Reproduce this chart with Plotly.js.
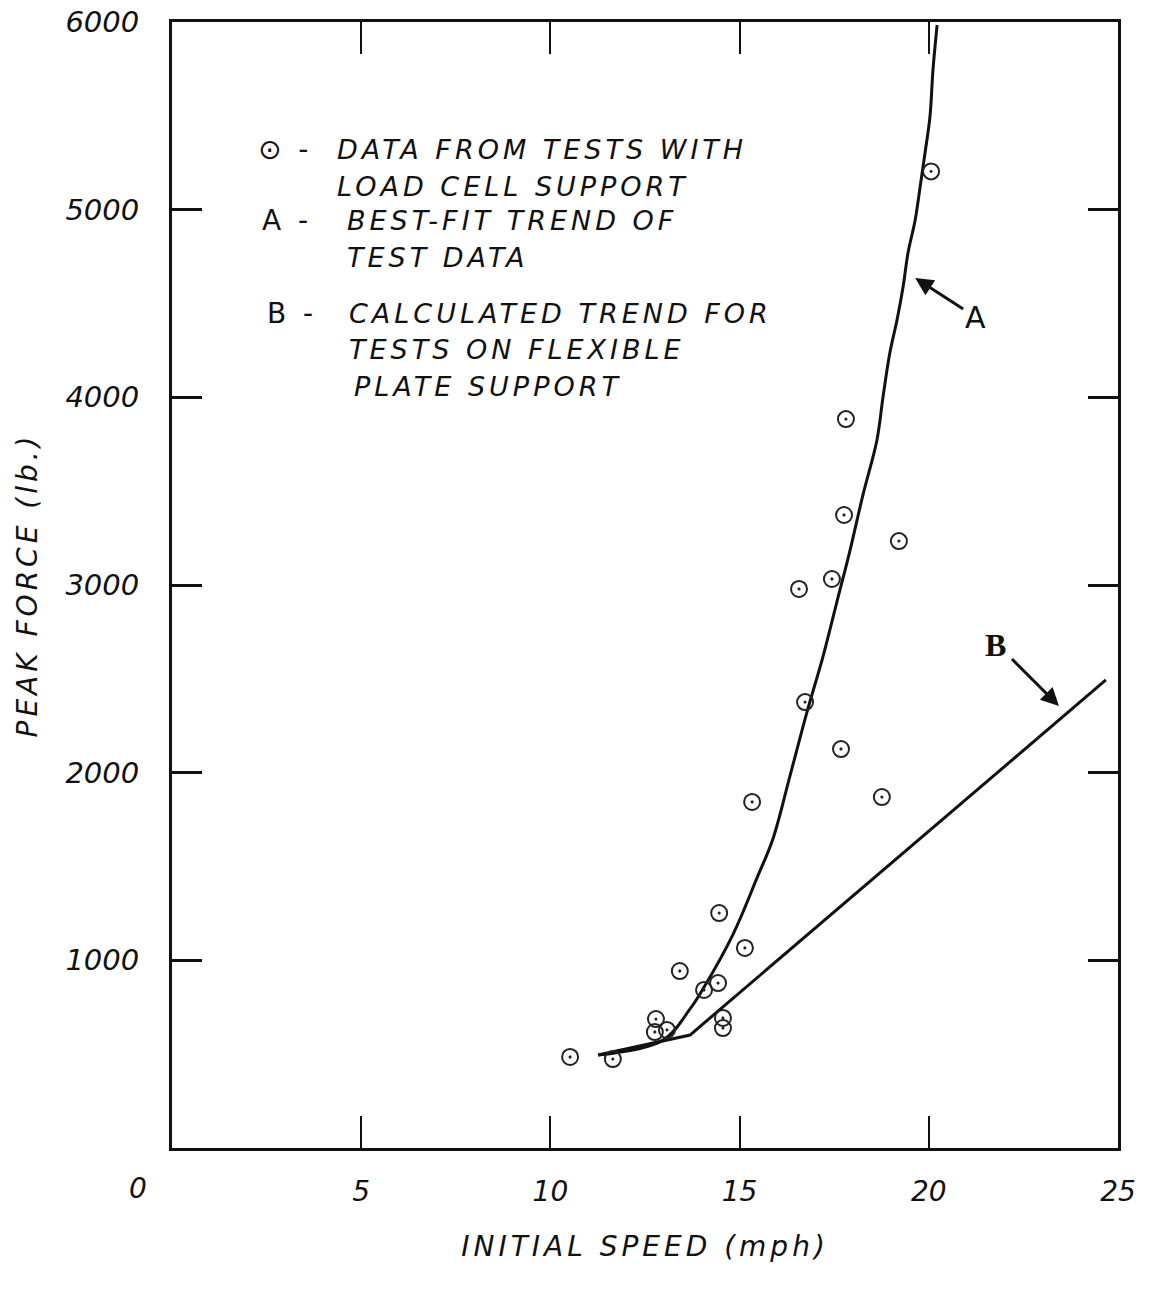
<!DOCTYPE html>
<html><head><meta charset="utf-8">
<script src="https://cdn.plot.ly/plotly-3.0.1.min.js"></script>
<style>
html,body{margin:0;padding:0;background:#fff}
#chart{width:1149px;height:1297px}
.annotation-text{letter-spacing:4px}
.xtitle,.ytitle{letter-spacing:4px}
</style></head><body><div id="chart"></div>
<script>
// Test data (load cell support)
const testSpeed = [10.52, 11.65, 12.79, 12.76, 13.08, 13.42, 14.06, 14.43, 14.46, 15.14, 14.56, 14.56,
                   15.33, 16.57, 16.73, 17.44, 17.68, 17.76, 17.81, 18.76, 19.21, 20.06];
const testForce = [485, 474, 687, 618, 629, 943, 842, 879, 1252, 1066, 693, 639,
                   1844, 2979, 2376, 3032, 2126, 3373, 3884, 1870, 3234, 5204];
// Curve A - best-fit trend of test data
const trendASpeed = [11.26, 12.98, 13.69, 14.03, 14.83, 15.46, 15.88, 16.33, 16.78, 17.20, 17.57, 17.92,
                     18.26, 18.63, 18.79, 18.97, 19.16, 19.32, 19.45, 19.64, 19.77, 19.90, 20.03, 20.11, 20.22];
const trendAForce = [496, 575, 741, 847, 1140, 1439, 1647, 1982, 2323, 2616, 2909, 3186,
                     3480, 3773, 4002, 4236, 4412, 4588, 4769, 4945, 5121, 5302, 5494, 5744, 5984];
// Curve B - calculated trend for flexible plate support
const trendBSpeed = [11.26, 13.69, 24.68];
const trendBForce = [496, 602, 2494];
// Axis ticks
const xTickVals = [5, 10, 15, 20, 25];
const xTickText = ['5', '10', '15', '20', '25'];
const yTickVals = [1000, 2000, 3000, 4000, 5000, 6000];
const yTickText = ['1000', '2000', '3000', '4000', '5000', '6000'];
// Legend text
const legendKeys = ['⊙ -', 'A -', 'B -'];
const legendText = [
  ['DATA FROM TESTS WITH', 'LOAD CELL SUPPORT'],
  ['BEST-FIT TREND OF', 'TEST DATA'],
  ['CALCULATED TREND FOR', 'TESTS ON FLEXIBLE', 'PLATE SUPPORT']
];
const xTitle = 'INITIAL SPEED (mph)';
const yTitle = 'PEAK FORCE (lb.)';

const W = 1149, H = 1297;
const L = 172, R = 1118, T = 22, B = 1148;
const px = v => (v - L) / (R - L);
const py = v => (B - v) / (B - T);
const hand = {family: 'DejaVu Sans', style: 'italic', color: '#111'};

const traces = [
  {x: trendASpeed, y: trendAForce, mode: 'lines', line: {color: '#111', width: 3, shape: 'spline', smoothing: 1}, hoverinfo: 'skip'},
  {x: trendBSpeed, y: trendBForce, mode: 'lines', line: {color: '#111', width: 3}, hoverinfo: 'skip'},
  {x: testSpeed, y: testForce, mode: 'markers',
   marker: {symbol: 'circle-open-dot', size: 16, color: '#222', line: {width: 2, color: '#222'}}}
];

const ann = [];
// legend keys
const keyPos = [[256, 150], [260, 220], [265, 313]];
legendKeys.forEach((k, i) => {
  ann.push({xref: 'paper', yref: 'paper', x: px(keyPos[i][0]), y: py(keyPos[i][1]), xanchor: 'left', yanchor: 'middle',
            text: k, showarrow: false, font: Object.assign({}, hand, {size: 28, style: 'normal'})});
});
const linePos = [
  [[335, 150], [335, 187]],
  [[345, 220], [345, 257]],
  [[347, 313], [347, 350], [352, 387]]
];
legendText.forEach((grp, i) => {
  grp.forEach((t, j) => {
    ann.push({xref: 'paper', yref: 'paper', x: px(linePos[i][j][0]), y: py(linePos[i][j][1]), xanchor: 'left', yanchor: 'middle',
              text: t, showarrow: false, font: Object.assign({}, hand, {size: 27})});
  });
});
// origin label shared by both axes
ann.push({x: 0, y: 0, xref: 'x', yref: 'y', text: '0', showarrow: false, xshift: -32, yshift: -40,
          font: Object.assign({}, hand, {size: 28})});
// curve labels with arrows
ann.push({x: 19.64, y: 4636, xref: 'x', yref: 'y', text: 'A', showarrow: true, ax: 62, ay: 40,
          arrowhead: 2, arrowsize: 1.2, arrowwidth: 3, arrowcolor: '#111',
          font: {family: 'DejaVu Sans', size: 30, color: '#111'}});
ann.push({x: 23.44, y: 2355, xref: 'x', yref: 'y', text: '<b>B</b>', showarrow: true, ax: -61, ay: -61,
          arrowhead: 2, arrowsize: 1.2, arrowwidth: 3, arrowcolor: '#111',
          font: {family: 'Liberation Serif', size: 32, color: '#111'}});

const layout = {
  width: W, height: H,
  margin: {l: L, r: W - R, t: T, b: H - B, pad: 0},
  paper_bgcolor: '#fff', plot_bgcolor: '#fff',
  showlegend: false,
  xaxis: {range: [0, 25], tickvals: xTickVals, ticktext: xTickText, ticks: 'inside', ticklen: 32, tickwidth: 2,
          tickcolor: '#111', showline: true, linewidth: 3, linecolor: '#111', mirror: 'ticks', showgrid: false,
          zeroline: false, ticklabelstandoff: 16, tickfont: Object.assign({}, hand, {size: 28}),
          title: {text: xTitle, font: Object.assign({}, hand, {size: 28}), standoff: 30}},
  yaxis: {range: [0, 6000], tickvals: yTickVals, ticktext: yTickText, ticks: 'inside', ticklen: 30, tickwidth: 3,
          tickcolor: '#111', showline: true, linewidth: 3, linecolor: '#111', mirror: 'ticks', showgrid: false,
          zeroline: false, ticklabelstandoff: 24, tickfont: Object.assign({}, hand, {size: 29}),
          title: {text: yTitle, font: Object.assign({}, hand, {size: 28}), standoff: 20}},
  annotations: ann
};

Plotly.newPlot('chart', traces, layout, {displayModeBar: false, staticPlot: true});
</script></body></html>
